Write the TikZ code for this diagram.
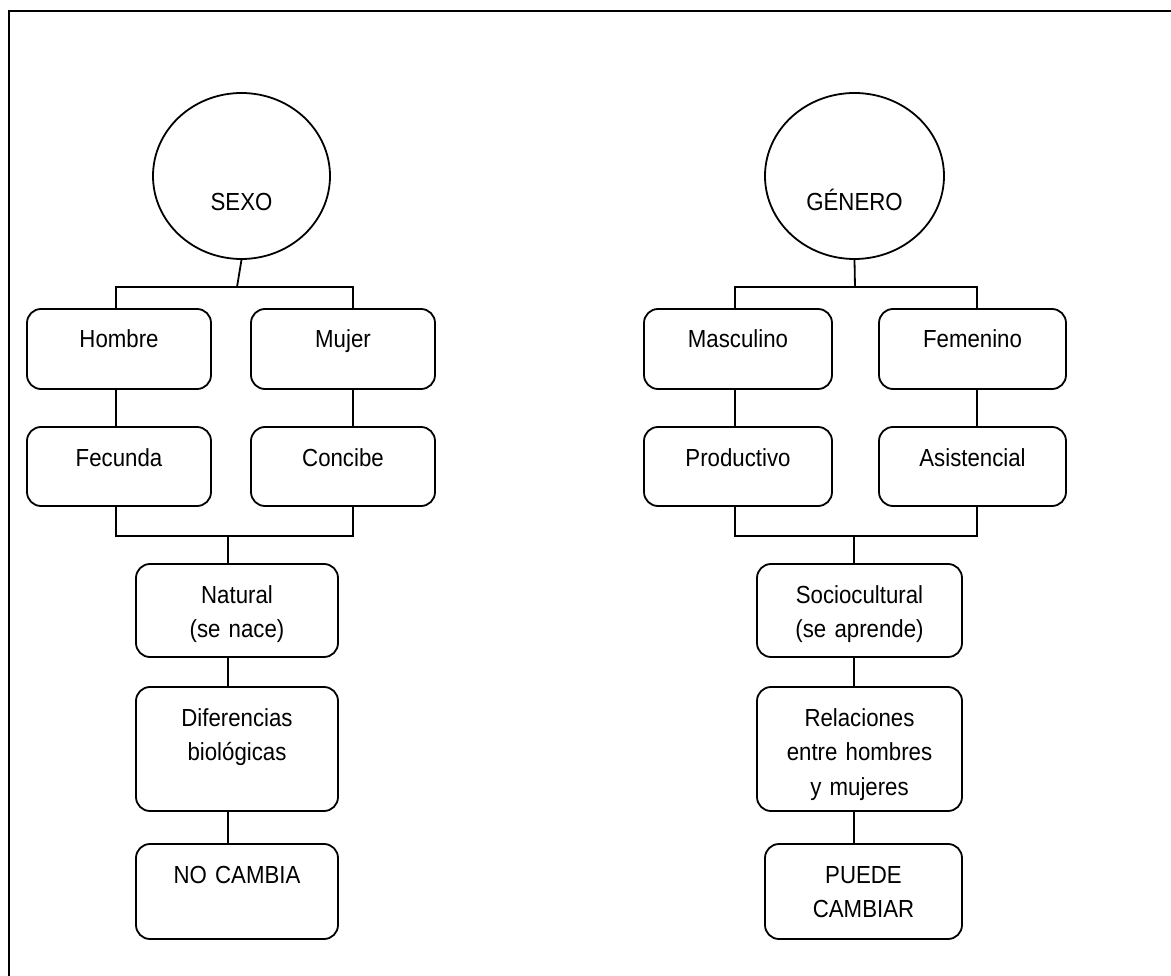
\documentclass[tikz,border=0pt]{standalone}
\usepackage{fontspec}
\setmainfont{Liberation Sans}[FakeStretch=0.9]
\usepackage{tikz}
\usetikzlibrary{shapes.geometric, positioning, calc}

\begin{document}
\begin{tikzpicture}[x=1pt, y=-1pt,
    font=\fontsize{24.7}{34.6}\selectfont,
    caja/.style={draw, line width=1.8pt, rounded corners=14pt, align=center, inner xsep=0pt, inner ysep=19pt, text height=20pt},
    ovalo/.style={draw, ellipse, line width=1.8pt, inner sep=0pt, text height=70pt, text depth=0pt, minimum height=166pt},
    linea/.style={line width=1.8pt}]
    \useasboundingbox (0,0) rectangle (1171,976);

    % Frame
    \draw[linea] (9,976) -- (9,11) -- (1171,11);

    % Sexo
    \node[ovalo, minimum width=177pt] (sexo) at (241.5,176) {SEXO};
    \node[caja, text width=184pt, text depth=22pt] (hombre) at (119,349) {Hombre};
    \node[caja, text width=184pt, text depth=22pt] (mujer) at (343,349) {Mujer};
    \node[caja, text width=184pt, text depth=21pt] (fecunda) at (119,466.5) {Fecunda};
    \node[caja, text width=184pt, text depth=21pt] (concibe) at (343,466.5) {Concibe};
    \node[caja, text width=202pt, text depth=35pt] (natural) at (237,610.5) {Natural\\(se nace)};
    \node[caja, text width=202pt, text depth=66pt] (diferencias) at (237,749) {Diferencias\\biológicas};
    \node[caja, text width=202pt, text depth=37pt] (nocambia) at (237,891.5) {NO CAMBIA};

    % Genero
    \node[ovalo, minimum width=179pt] (genero) at (854.5,176) {GÉNERO};
    \node[caja, text width=188pt, text depth=22pt] (masculino) at (738,349) {Masculino};
    \node[caja, text width=187pt, text depth=22pt] (femenino) at (972.5,349) {Femenino};
    \node[caja, text width=188pt, text depth=21pt] (productivo) at (738,466.5) {Productivo};
    \node[caja, text width=187pt, text depth=21pt] (asistencial) at (972.5,466.5) {Asistencial};
    \node[caja, text width=205pt, text depth=35pt] (socio) at (859.5,610.5) {Sociocultural\\(se aprende)};
    \node[caja, text width=205pt, text depth=66pt] (relaciones) at (859.5,749) {Relaciones\\entre hombres\\y mujeres};
    \node[caja, text width=197pt, text depth=37pt] (puede) at (863.5,891.5) {PUEDE\\CAMBIAR};

    % Connectors left
    \coordinate (bsexo) at (237,287);
    \coordinate (bnat) at (228,536);
    \draw[linea] (sexo.south) -- (bsexo);
    \draw[linea] ([xshift=-3pt]hombre.north) |- (bsexo) -| ([xshift=10pt]mujer.north);
    \draw[linea] ([xshift=-3pt]hombre.south) -- ([xshift=-3pt]fecunda.north);
    \draw[linea] ([xshift=10pt]mujer.south) -- ([xshift=10pt]concibe.north);
    \draw[linea] ([xshift=-3pt]fecunda.south) |- (bnat) -| ([xshift=10pt]concibe.south);
    \draw[linea] (bnat) -- (bnat |- natural.north);
    \draw[linea] (natural.south -| bnat) -- (diferencias.north -| bnat);
    \draw[linea] (diferencias.south -| bnat) -- (nocambia.north -| bnat);

    % Connectors right
    \coordinate (bgenero) at (855,287);
    \coordinate (bsocio) at (854,536);
    \draw[linea] (genero.south) -- (bgenero);
    \draw[linea] ([xshift=-3pt]masculino.north) |- (bgenero) -| ([xshift=4.5pt]femenino.north);
    \draw[linea] ([xshift=-3pt]masculino.south) -- ([xshift=-3pt]productivo.north);
    \draw[linea] ([xshift=4.5pt]femenino.south) -- ([xshift=4.5pt]asistencial.north);
    \draw[linea] ([xshift=-3pt]productivo.south) |- (bsocio) -| ([xshift=4.5pt]asistencial.south);
    \draw[linea] (bsocio) -- (bsocio |- socio.north);
    \draw[linea] (socio.south -| bsocio) -- (relaciones.north -| bsocio);
    \draw[linea] (relaciones.south -| bsocio) -- (puede.north -| bsocio);
\end{tikzpicture}
\end{document}
